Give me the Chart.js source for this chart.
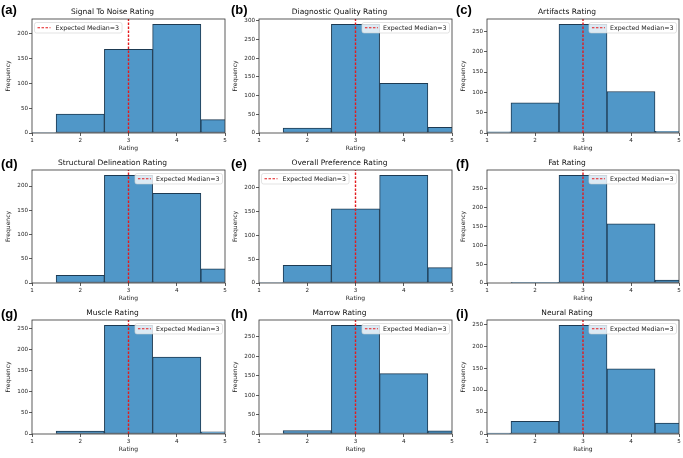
<!DOCTYPE html>
<html>
<head>
<meta charset="utf-8">
<script src="https://cdn.jsdelivr.net/npm/chart.js@4"></script>
<style>
  html, body { margin: 0; padding: 0; background: #fff; width: 683px; height: 458px; overflow: hidden; }
  #wrap { position: relative; width: 683px; height: 458px; }
  canvas { position: absolute; }
  .plabel { position: absolute; font-family: "Liberation Sans", Arial, sans-serif; font-weight: bold; font-size: 13px; color: #000; line-height: 13px; }
</style>
</head>
<body>
<div id="wrap"></div>
<script>
// ---- data ----
const categories = [1, 2, 3, 4, 5];
const xTicks = [1, 2, 3, 4, 5];
const yTickStep = 50;
const expectedMedian = 3;
const medianLabel = 'Expected Median=3';

const signalToNoise = [1, 38, 168, 218, 27];
const diagnosticQuality = [0, 13, 290, 133, 15];
const artifacts = [3, 74, 267, 102, 4];
const structuralDelineation = [0, 16, 222, 185, 29];
const overallPreference = [1, 37, 155, 225, 32];
const fat = [0, 1, 285, 157, 8];
const muscle = [0, 7, 258, 183, 5];
const marrow = [0, 9, 279, 155, 8];
const neural = [2, 29, 247, 148, 25];

const titles = ['Signal To Noise Rating', 'Diagnostic Quality Rating', 'Artifacts Rating',
  'Structural Delineation Rating', 'Overall Preference Rating', 'Fat Rating',
  'Muscle Rating', 'Marrow Rating', 'Neural Rating'];
const panelLabels = ['(a)', '(b)', '(c)', '(d)', '(e)', '(f)', '(g)', '(h)', '(i)'];
const seriesList = [signalToNoise, diagnosticQuality, artifacts, structuralDelineation,
  overallPreference, fat, muscle, marrow, neural];
const legendSide = ['left', 'right', 'right', 'right', 'left', 'right', 'right', 'right', 'right'];

// ---- layout (plot-area pixel boxes) ----
const colLeft = [32, 259, 487];
const colRight = [225, 452, 679];
const rowTop = [19, 170, 320];
const rowBottom = [133, 283, 434];
const labelPos = [[1, 3], [231, 3], [456, 3], [1, 157], [231, 157], [456, 157], [1, 307], [231, 307], [456, 307]];

const Y_W = 32, T_H = 19, X_H = 20, R_PAD = 4;
const FONT = "'DejaVu Sans', sans-serif";
const barFill = 'rgba(80,151,200,1)';
const barEdge = '#1d3a52';

const framePlugin = {
  id: 'frameLegend',
  afterDatasetsDraw(chart) {
    const a = chart.chartArea, ctx = chart.ctx;
    ctx.save();
    ctx.strokeStyle = '#333';
    ctx.lineWidth = 0.8;
    ctx.strokeRect(a.left, a.top, a.right - a.left, a.bottom - a.top);
    ctx.restore();
  },
  afterDraw(chart, args, opts) {
    const a = chart.chartArea, ctx = chart.ctx;
    const ds = chart.data.datasets[0];
    ctx.save();
    ctx.font = '6.3px ' + FONT;
    const tw = ctx.measureText(ds.label).width;
    const w = 3 + 13 + 5 + tw + 3, h = 10.5;
    const x = opts.side === 'left' ? a.left + 2.5 : a.right - 2.5 - w;
    const y = a.top + 3.5;
    ctx.beginPath();
    ctx.roundRect(x, y, w, h, 2);
    ctx.fillStyle = 'rgba(255,255,255,0.8)';
    ctx.fill();
    ctx.strokeStyle = 'rgba(204,204,204,0.8)';
    ctx.lineWidth = 0.7;
    ctx.stroke();
    ctx.beginPath();
    ctx.setLineDash([2.5, 1.5]);
    ctx.strokeStyle = ds.borderColor;
    ctx.lineWidth = 1.2;
    ctx.moveTo(x + 3, y + h / 2);
    ctx.lineTo(x + 16, y + h / 2);
    ctx.stroke();
    ctx.setLineDash([]);
    ctx.fillStyle = '#222';
    ctx.textBaseline = 'middle';
    ctx.textAlign = 'left';
    ctx.fillText(ds.label, x + 21, y + h / 2 + 0.3);
    ctx.restore();
  }
};

const wrap = document.getElementById('wrap');

seriesList.forEach((vals, i) => {
  const r = Math.floor(i / 3), c = i % 3;
  const pw = colRight[c] - colLeft[c], ph = rowBottom[r] - rowTop[r];
  const cw = Y_W + pw + R_PAD, chh = T_H + ph + X_H;
  const cv = document.createElement('canvas');
  cv.width = cw; cv.height = chh;
  cv.style.left = (colLeft[c] - Y_W) + 'px';
  cv.style.top = (rowTop[r] - T_H) + 'px';
  cv.style.width = cw + 'px'; cv.style.height = chh + 'px';
  wrap.appendChild(cv);

  const lab = document.createElement('div');
  lab.className = 'plabel';
  lab.textContent = panelLabels[i];
  lab.style.left = labelPos[i][0] + 'px';
  lab.style.top = labelPos[i][1] + 'px';
  wrap.appendChild(lab);

  const yMax = Math.max(...vals) * 1.05;

  new Chart(cv, {
    type: 'bar',
    data: {
      datasets: [
        {
          type: 'line',
          label: medianLabel,
          data: [{ x: expectedMedian, y: 0 }, { x: expectedMedian, y: yMax }],
          borderColor: '#e41a1c',
          borderWidth: 1.4,
          borderDash: [2.5, 1.5],
          pointRadius: 0,
          fill: false,
          clip: 0
        },
        {
          type: 'bar',
          label: 'Frequency',
          data: categories.map((x, k) => ({ x: x, y: vals[k] })),
          backgroundColor: barFill,
          borderColor: barEdge,
          borderWidth: 1,
          borderSkipped: false,
          barPercentage: 1,
          categoryPercentage: 1,
          clip: 0
        }
      ]
    },
    options: {
      responsive: false,
      animation: false,
      devicePixelRatio: window.devicePixelRatio || 1,
      layout: { padding: { left: 0, right: R_PAD, top: 0, bottom: 0 } },
      plugins: {
        legend: { display: false },
        tooltip: { enabled: false },
        title: {
          display: true,
          text: titles[i],
          color: '#111',
          font: { family: FONT, size: 7.5, weight: 'normal' },
          padding: { top: 8, bottom: 2 }
        },
        frameLegend: { side: legendSide[i] }
      },
      scales: {
        x: {
          type: 'linear',
          min: 1, max: 5,
          offset: false,
          grid: { display: true, offset: false, drawOnChartArea: false, drawTicks: true, tickLength: 3, tickColor: '#333', tickWidth: 0.8 },
          border: { display: false },
          afterBuildTicks: (s) => { s.ticks = xTicks.map(v => ({ value: v })); },
          ticks: { color: '#222', font: { family: FONT, size: 5.6 }, padding: 1, maxRotation: 0, autoSkip: false,
            callback: (v) => String(v) },
          title: { display: true, text: 'Rating', color: '#222', font: { family: FONT, size: 6 }, padding: { top: 0, bottom: 1 } },
          afterFit: (s) => { s.height = X_H; }
        },
        y: {
          type: 'linear',
          min: 0, max: yMax,
          grid: { display: true, drawOnChartArea: false, drawTicks: true, tickLength: 3, tickColor: '#333', tickWidth: 0.8 },
          border: { display: false },
          afterBuildTicks: (s) => {
            const t = [];
            for (let v = 0; v <= yMax; v += yTickStep) t.push({ value: v });
            s.ticks = t;
          },
          ticks: { color: '#222', font: { family: FONT, size: 5.6 }, padding: 1, autoSkip: false,
            callback: (v) => String(v) },
          title: { display: true, text: 'Frequency', color: '#222', font: { family: FONT, size: 6 }, padding: { top: 5, bottom: 0 } },
          afterFit: (s) => { s.width = Y_W; }
        }
      }
    },
    plugins: [framePlugin]
  });
});
</script>
</body>
</html>
